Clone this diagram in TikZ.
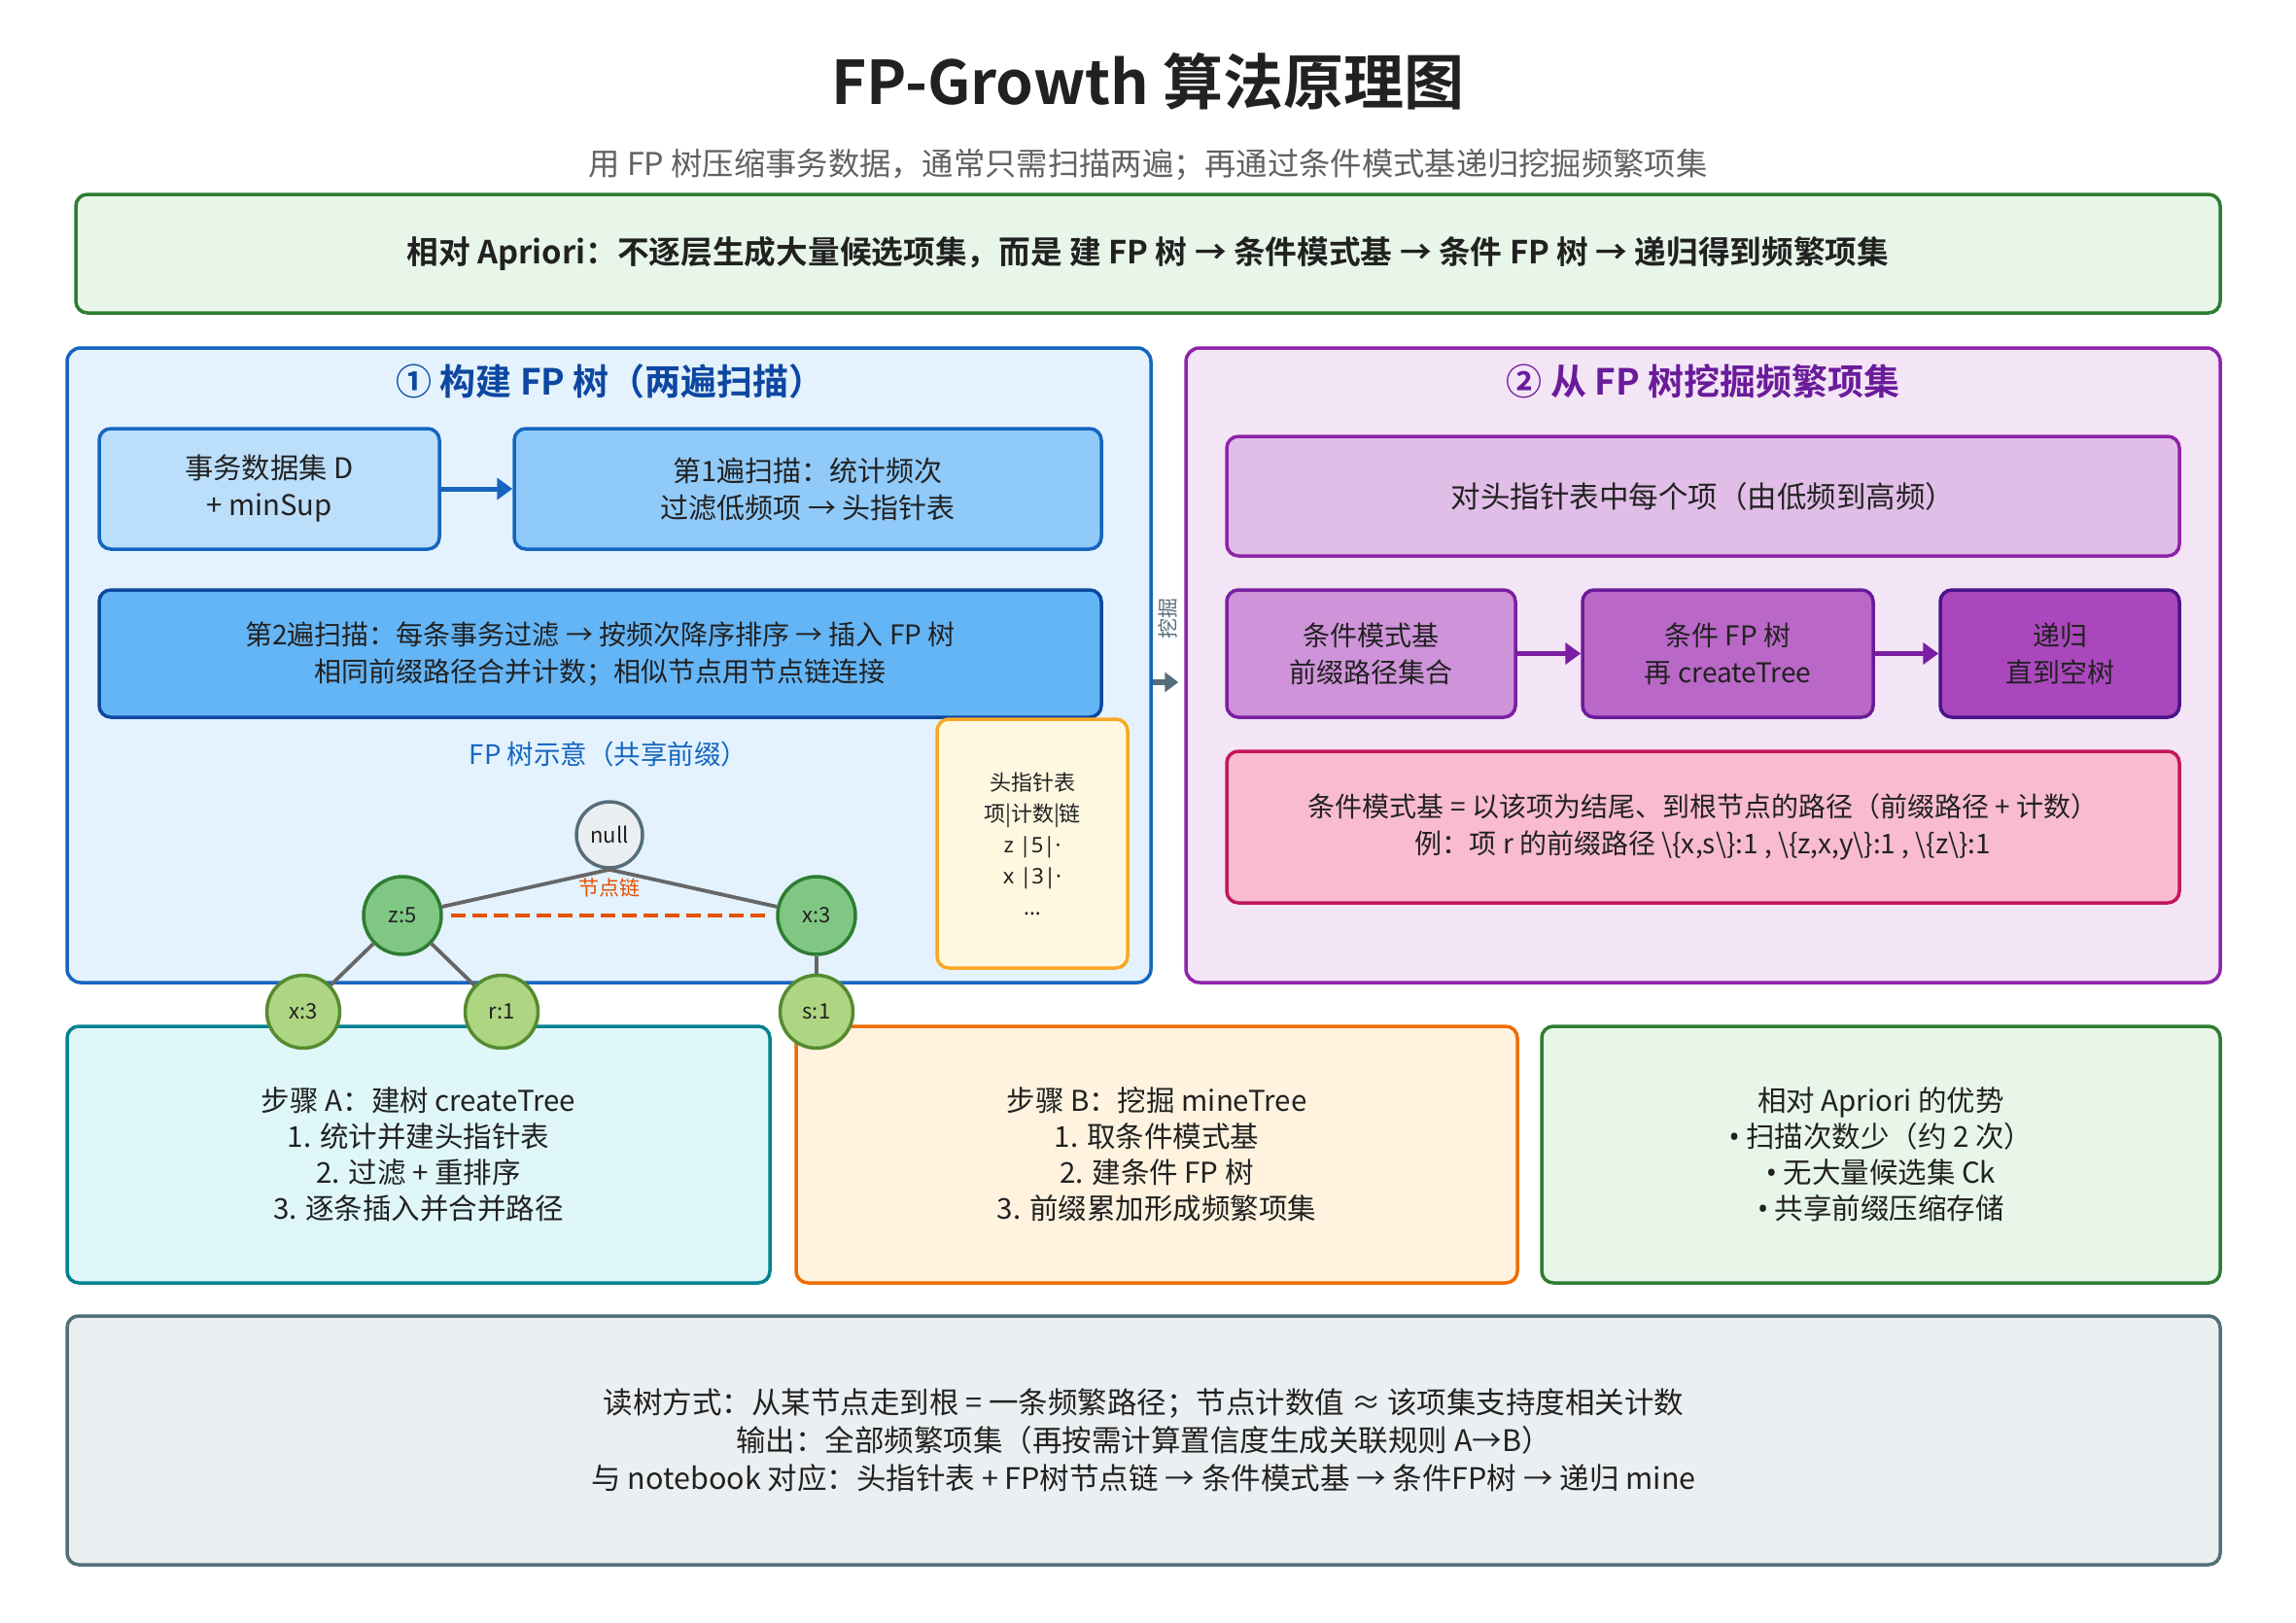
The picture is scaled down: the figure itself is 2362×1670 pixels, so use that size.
\documentclass[tikz,border=0pt]{standalone}
\usepackage{fontspec}
\setmainfont{Noto Sans CJK SC}[BoldFont={Noto Sans CJK SC Bold}]
\newfontfamily\latinf{Noto Sans}
\usetikzlibrary{arrows.meta}
\definecolor{ttl}{HTML}{212121}
\definecolor{subg}{HTML}{616161}
\definecolor{gfill}{HTML}{E8F5E9}
\definecolor{gline}{HTML}{2E7D32}
\definecolor{lpfill}{HTML}{E3F2FD}
\definecolor{blueA}{HTML}{1565C0}
\definecolor{blueB}{HTML}{0D47A1}
\definecolor{bD}{HTML}{BBDEFB}
\definecolor{bS1}{HTML}{90CAF9}
\definecolor{bS2}{HTML}{64B5F6}
\definecolor{rpfill}{HTML}{F3E5F5}
\definecolor{purA}{HTML}{8E24AA}
\definecolor{purB}{HTML}{7B1FA2}
\definecolor{purC}{HTML}{6A1B9A}
\definecolor{purD}{HTML}{4A148C}
\definecolor{p1}{HTML}{E1BEE7}
\definecolor{p2}{HTML}{CE93D8}
\definecolor{p3}{HTML}{BA68C8}
\definecolor{p4}{HTML}{AB47BC}
\definecolor{pinkf}{HTML}{F8BBD0}
\definecolor{pinkl}{HTML}{C2185B}
\definecolor{tealf}{HTML}{E0F7FA}
\definecolor{teall}{HTML}{00838F}
\definecolor{orf}{HTML}{FFF3E0}
\definecolor{orl}{HTML}{EF6C00}
\definecolor{grayf}{HTML}{ECEFF1}
\definecolor{grayl}{HTML}{546E7A}
\definecolor{yelf}{HTML}{FFF8E1}
\definecolor{yell}{HTML}{F9A825}
\definecolor{nodeg}{HTML}{81C784}
\definecolor{nodelg}{HTML}{AED581}
\definecolor{nodelgl}{HTML}{558B2F}
\definecolor{edgec}{HTML}{666666}
\definecolor{linkc}{HTML}{E65100}
\newcommand{\bul}{{\latinf •}}
\begin{document}
\begin{tikzpicture}[x=1pt,y=-1pt,
  box/.style={rounded corners=12pt, line width=3.5pt, align=center, inner sep=0pt, text=ttl,
    font=\fontsize{28}{38}\selectfont},
  panel/.style={rounded corners=14pt, line width=3.5pt, inner sep=0pt},
  tnode/.style={circle, line width=3.5pt, inner sep=0pt, text=ttl, font=\fontsize{22}{26}\selectfont},
  edge/.style={draw=edgec, line width=3.8pt},
  flow/.style={-{Triangle[length=16pt,width=22pt]}, line width=5pt},
  lowbox/.style={box, minimum height=264, font=\fontsize{29.5}{37}\selectfont},
]
\useasboundingbox (0,0) rectangle (2362,1670);
\fill[white] (0,0) rectangle (2362,1670);

% title
\node[font=\fontsize{62}{70}\selectfont\bfseries, text=ttl] (title) at (1181,84) {FP-Growth 算法原理图};
\node[font=\fontsize{32.3}{36}\selectfont, text=subg] (sub) at (1181,169) {用 FP 树压缩事务数据，通常只需扫描两遍；再通过条件模式基递归挖掘频繁项集};

% banner
\node[box, fill=gfill, draw=gline, minimum width=2206, minimum height=122,
  font=\fontsize{32.7}{38}\selectfont\bfseries] (banner) at (1181,261)
  {相对 Apriori：不逐层生成大量候选项集，而是 建 FP 树 → 条件模式基 → 条件 FP 树 → 递归得到频繁项集};

% panels
\node[panel, fill=lpfill, draw=blueA, minimum width=1115, minimum height=653] (lp) at (626.5,684.5) {};
\node[panel, fill=rpfill, draw=purA, minimum width=1064, minimum height=653] (rp) at (1752,684.5) {};
\node[font=\fontsize{37}{40}\selectfont\bfseries, text=blueB] (lpt) at (628,392) {① 构建 FP 树（两遍扫描）};
\node[font=\fontsize{37}{40}\selectfont\bfseries, text=purC] (rpt) at (1752,392) {② 从 FP 树挖掘频繁项集};

% left panel boxes
\node[box, fill=bD, draw=blueA, minimum width=350, minimum height=124, font=\fontsize{29.3}{38}\selectfont] (D) at (277,503) {事务数据集 D\\+ minSup};
\node[box, fill=bS1, draw=blueA, minimum width=604, minimum height=124, font=\fontsize{29}{38}\selectfont] (S1) at (831,503) {第1遍扫描：统计频次\\过滤低频项 → 头指针表};
\node[box, fill=bS2, draw=blueB, minimum width=1031, minimum height=131] (S2) at (617.5,672.5) {第2遍扫描：每条事务过滤 → 按频次降序排序 → 插入 FP 树\\相同前缀路径合并计数；相似节点用节点链连接};
\draw[flow, blueA] (D) -- (S1);

\node[font=\fontsize{27.5}{30}\selectfont, text=blueA] (fpl) at (626,776) {FP 树示意（共享前缀）};
\node[box, fill=yelf, draw=yell, minimum width=196, minimum height=256, font=\fontsize{22}{32}\selectfont] (ht) at (1062,868)
  {头指针表\\项|计数|链\\{\latinf z |5|·}\\{\latinf x |3|·}\\{\latinf ...}};

% right panel boxes
\node[box, fill=p1, draw=purA, minimum width=980, minimum height=123, font=\fontsize{30.5}{38}\selectfont] (each) at (1752,510.5) {对头指针表中每个项（由低频到高频）};
\node[box, fill=p2, draw=purB, minimum width=297, minimum height=131] (cpb) at (1410.5,672.5) {条件模式基\\前缀路径集合};
\node[box, fill=p3, draw=purC, minimum width=299, minimum height=131] (cfp) at (1777.5,672.5) {条件 FP 树\\再 createTree};
\node[box, fill=p4, draw=purD, minimum width=246, minimum height=131] (rec) at (2119,672.5) {递归\\直到空树};
\draw[flow, purB] (cpb) -- (cfp);
\draw[flow, purB] (cfp) -- (rec);
\node[box, fill=pinkf, draw=pinkl, minimum width=980, minimum height=156] (pink) at (1752,851)
  {条件模式基 = 以该项为结尾、到根节点的路径（前缀路径 + 计数）\\例：项 r 的前缀路径 \textbackslash\{x,s\textbackslash\}:1 , \textbackslash\{z,x,y\textbackslash\}:1 , \textbackslash\{z\textbackslash\}:1};

% between panels
\node[rotate=90, font=\fontsize{21}{24}\selectfont, text=grayl] (wj) at (1201,636) {挖掘};
\draw[-{Triangle[length=14pt,width=20pt]}, line width=6pt, grayl, shorten >=6pt] (lp.east |- 0,702) -- (rp.west |- 0,702);

% bottom boxes
\node[lowbox, fill=tealf, draw=teall, minimum width=723] (A) at (430.5,1188)
  {步骤 A：建树 createTree\\1. 统计并建头指针表\\2. 过滤 + 重排序\\3. 逐条插入并合并路径};
\node[lowbox, fill=orf, draw=orl, minimum width=742] (B) at (1190,1188)
  {步骤 B：挖掘 mineTree\\1. 取条件模式基\\2. 建条件 FP 树\\3. 前缀累加形成频繁项集};
\node[lowbox, fill=gfill, draw=gline, minimum width=698] (C) at (1935,1188)
  {相对 Apriori 的优势\\\bul{} 扫描次数少（约 2 次）\\\bul{} 无大量候选集 Ck\\\bul{} 共享前缀压缩存储};
\node[box, fill=grayf, draw=grayl, minimum width=2215, minimum height=256, font=\fontsize{30.5}{39}\selectfont] (bot) at (1176.5,1482)
  {读树方式：从某节点走到根 = 一条频繁路径；节点计数值 ≈ 该项集支持度相关计数\\输出：全部频繁项集（再按需计算置信度生成关联规则 A→B）\\与 notebook 对应：头指针表 + FP树节点链 → 条件模式基 → 条件FP树 → 递归 mine};

% tree
\node[tnode, fill=grayf, draw=grayl, minimum size=68] (null) at (627,859) {null};
\node[tnode, fill=nodeg, draw=gline, minimum size=80] (z5) at (414,942) {z:5};
\node[tnode, fill=nodeg, draw=gline, minimum size=80] (x3) at (840,942) {x:3};
\node[tnode, fill=nodelg, draw=nodelgl, minimum size=75] (x3b) at (312,1041) {x:3};
\node[tnode, fill=nodelg, draw=nodelgl, minimum size=75] (r1) at (516,1041) {r:1};
\node[tnode, fill=nodelg, draw=nodelgl, minimum size=75] (s1) at (840,1041) {s:1};
\draw[edge] (null.south) -- (z5);
\draw[edge] (null.south) -- (x3);
\draw[edge] (z5) -- (x3b);
\draw[edge] (z5) -- (r1);
\draw[edge] (x3) -- (s1);
\draw[linkc, line width=4pt, dash pattern=on 15pt off 7pt, shorten <=8pt, shorten >=10pt] (z5.east) -- (x3.west);
\node[font=\fontsize{21}{24}\selectfont, text=linkc] (nl) at (627,913) {节点链};
\end{tikzpicture}
\end{document}
